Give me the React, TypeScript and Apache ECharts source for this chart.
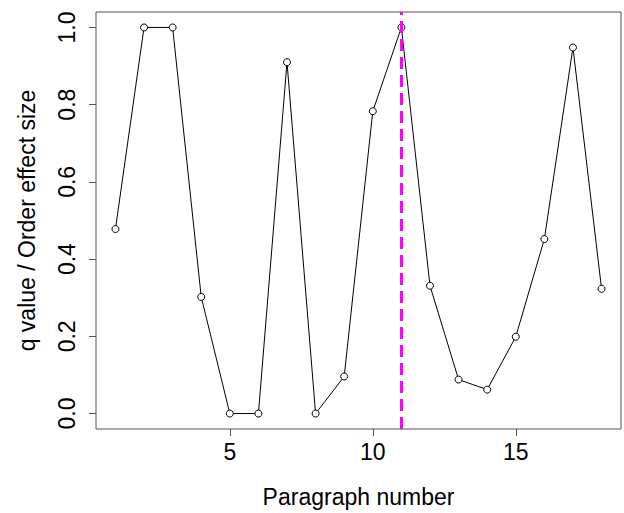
import React, { useEffect, useRef } from "react";
import * as echarts from "echarts";

const paragraphs = [1, 2, 3, 4, 5, 6, 7, 8, 9, 10, 11, 12, 13, 14, 15, 16, 17, 18];
const qValues = [0.478, 1.0, 1.0, 0.302, 0.0, 0.0, 0.91, 0.0, 0.096, 0.783, 1.0, 0.331, 0.088, 0.062, 0.199, 0.452, 0.948, 0.323];
const xTicks = [5, 10, 15];
const yTicks = [0, 0.2, 0.4, 0.6, 0.8, 1.0];
const markerX = 11;

const FONT = "'Liberation Sans', Arial, Helvetica, sans-serif";

export default function App() {
  const ref = useRef<HTMLDivElement>(null);
  useEffect(() => {
    if (!ref.current) return;
    const chart = echarts.init(ref.current, null, { renderer: "svg" });
    chart.setOption({
      animation: false,
      backgroundColor: "#ffffff",
      grid: {
        left: 96,
        top: 12,
        width: 525,
        height: 418,
        show: true,
        borderColor: "#555555",
        borderWidth: 1,
        backgroundColor: "transparent",
      },
      xAxis: {
        type: "value",
        min: 0.32,
        max: 18.68,
        name: "Paragraph number",
        nameLocation: "middle",
        nameGap: 56,
        nameTextStyle: { fontFamily: FONT, fontSize: 23, color: "#000" },
        axisLine: { show: false, onZero: false },
        splitLine: { show: false },
        axisTick: {
          show: true,
          inside: false,
          length: 7,
          customValues: xTicks,
          lineStyle: { color: "#555" },
        },
        axisLabel: {
          customValues: xTicks,
          margin: 11,
          fontFamily: FONT,
          fontSize: 23,
          color: "#000",
        },
      },
      yAxis: {
        type: "value",
        min: -0.04,
        max: 1.04,
        name: "q value / Order effect size",
        nameLocation: "middle",
        nameGap: 58,
        nameRotate: 90,
        nameTextStyle: { fontFamily: FONT, fontSize: 23, color: "#000" },
        axisLine: { show: false, onZero: false },
        splitLine: { show: false },
        axisTick: {
          show: true,
          inside: false,
          length: 7,
          customValues: yTicks,
          lineStyle: { color: "#555" },
        },
        axisLabel: {
          customValues: yTicks,
          rotate: 90,
          margin: 18,
          fontFamily: FONT,
          fontSize: 23,
          color: "#000",
          formatter: (v: number) => v.toFixed(1),
        },
      },
      series: [
        {
          type: "line",
          data: paragraphs.map((p, i) => [p, qValues[i]]),
          symbol: "circle",
          symbolSize: 7,
          showAllSymbol: true,
          lineStyle: { color: "#000", width: 1 },
          itemStyle: { color: "#ffffff", borderColor: "#000", borderWidth: 1 },
          z: 3,
          markLine: {
            silent: true,
            symbol: "none",
            label: { show: false },
            lineStyle: { color: "#ff00ff", width: 3, type: [12, 6] },
            data: [{ xAxis: markerX }],
          },
        },
      ],
    });
    return () => chart.dispose();
  }, []);
  return <div ref={ref} style={{ width: 624, height: 513, position: "absolute", left: 0, top: 0 }} />;
}
